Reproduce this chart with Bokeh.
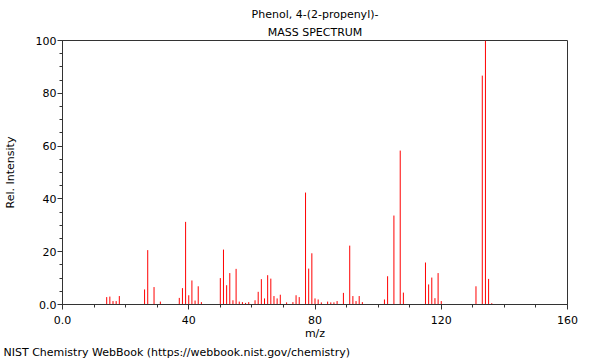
from bokeh.plotting import figure
from bokeh.models import Range1d, SingleIntervalTicker, ColumnDataSource, Title
from bokeh.embed import file_html
from bokeh.resources import INLINE

title_line1 = "Phenol, 4-(2-propenyl)-"
title_line2 = "MASS SPECTRUM"
footer = "NIST Chemistry WebBook (https://webbook.nist.gov/chemistry)"

mz = [14, 15, 16, 17, 18, 26, 27, 29, 31, 37, 38, 39, 40, 41, 42, 43, 44,
      50, 51, 52, 53, 54, 55, 56, 57, 58, 59, 61, 62, 63, 64, 65, 66, 67, 68, 69,
      71, 73, 74, 75, 77, 78, 79, 80, 81, 82, 84, 85, 86, 87, 89, 91, 92, 93, 94, 95,
      102, 103, 105, 107, 108, 115, 116, 117, 118, 119, 120, 131, 133, 134, 135, 136]
intensity = [2.8, 3.0, 1.3, 1.3, 3.2, 5.7, 20.6, 6.6, 1.1, 2.5, 6.2, 31.3, 3.5, 9.1, 1.5, 6.9, 0.9,
             10.0, 20.8, 7.3, 11.9, 1.6, 13.5, 1.1, 0.9, 0.6, 0.9, 1.6, 4.8, 9.6, 2.3, 11.1, 9.8, 3.2, 2.3, 3.7,
             0.8, 0.9, 3.5, 2.8, 42.4, 13.6, 19.4, 2.3, 1.9, 0.8, 1.1, 0.8, 0.8, 1.3, 4.4, 22.3, 3.2, 1.3, 3.2, 0.9,
             1.9, 10.7, 33.7, 58.3, 4.5, 15.9, 7.6, 10.2, 2.4, 11.9, 1.3, 6.9, 86.7, 100.0, 9.7, 0.5]

FONT = "DejaVu Sans"
FS = "11px"

src = ColumnDataSource(dict(mz=mz, base=[0] * len(mz), inten=intensity))

p = figure(width=600, height=360, output_backend="svg", toolbar_location=None,
           x_range=Range1d(0, 160), y_range=Range1d(0, 100),
           min_border_left=54, min_border_right=33, min_border_top=40, min_border_bottom=56,
           x_axis_label="m/z", y_axis_label="Rel. Intensity")

p.segment(x0="mz", y0="base", x1="mz", y1="inten", source=src, line_color="#ff0000", line_width=1)

p.xgrid.visible = False
p.ygrid.visible = False
p.outline_line_color = "#333333"
p.outline_line_width = 1
p.background_fill_color = "white"
p.border_fill_color = "white"

p.xaxis.ticker = SingleIntervalTicker(interval=40, num_minor_ticks=4)
p.yaxis.ticker = SingleIntervalTicker(interval=20, num_minor_ticks=4)
p.xaxis.major_label_overrides = {0: "0.0"}
p.yaxis.major_label_overrides = {0: "0.0"}

for ax in (p.xaxis[0], p.yaxis[0]):
    ax.axis_line_color = "#333333"
    ax.major_tick_line_color = "#333333"
    ax.minor_tick_line_color = "#333333"
    ax.major_tick_in = 0
    ax.major_tick_out = 5
    ax.minor_tick_in = 0
    ax.minor_tick_out = 3
    ax.major_label_text_font = FONT
    ax.major_label_text_font_size = FS
    ax.major_label_text_color = "black"
    ax.axis_label_text_font = FONT
    ax.axis_label_text_font_size = FS
    ax.axis_label_text_font_style = "normal"
    ax.axis_label_text_color = "black"

p.xaxis.major_label_standoff = 6
p.xaxis.axis_label_standoff = 0
p.yaxis.major_label_standoff = 1
p.yaxis.axis_label_standoff = 16

p.title.text = title_line1
p.title.align = "center"
p.title.text_font = FONT
p.title.text_font_size = FS
p.title.text_font_style = "normal"
p.title.text_color = "black"
p.title.standoff = 3

p.add_layout(Title(text=title_line2, align="center", text_font=FONT, text_font_size=FS,
                   text_font_style="normal", text_color="black", standoff=3), "above")
p.add_layout(Title(text=footer, align="left", text_font=FONT, text_font_size=FS,
                   text_font_style="normal", text_color="black", standoff=2, offset=-59), "below")

open("out.html", "w").write(file_html(p, INLINE))
